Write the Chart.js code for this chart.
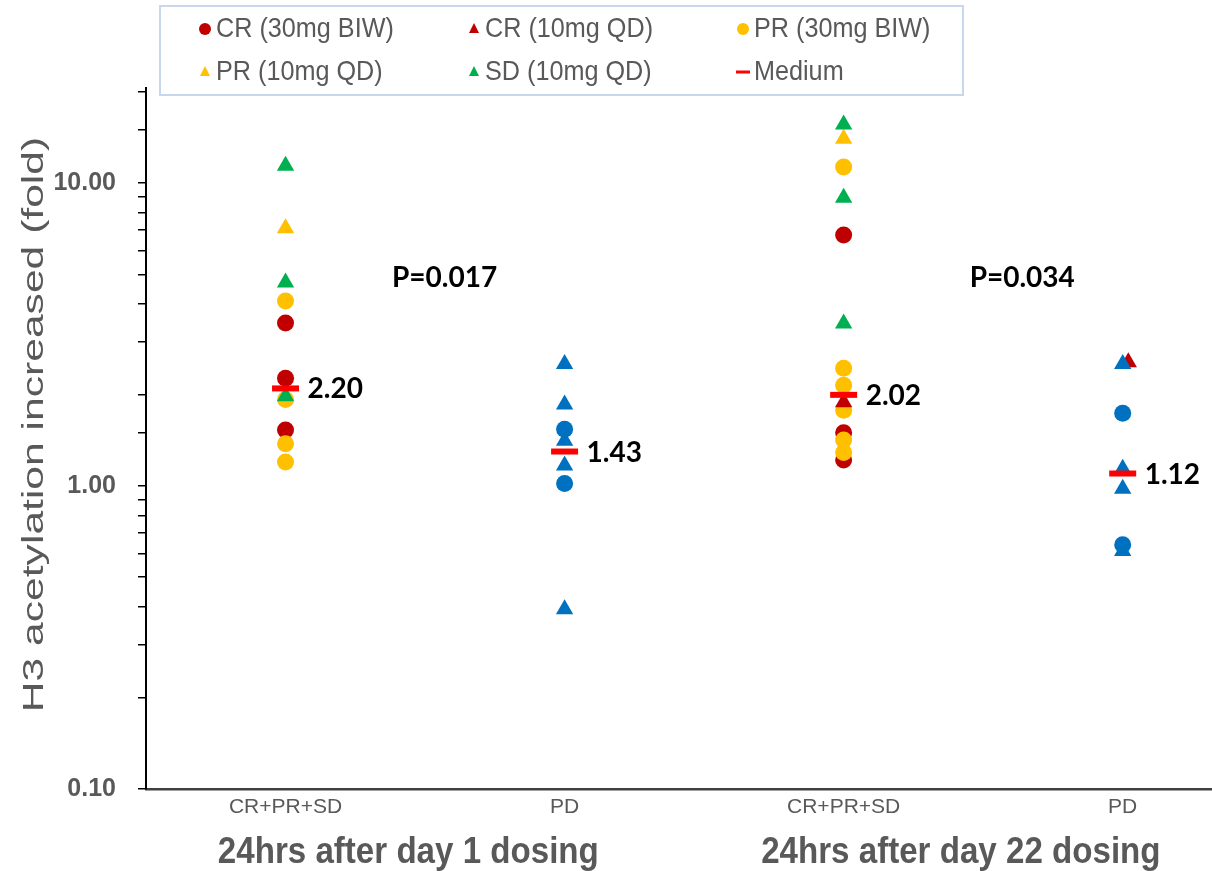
<!DOCTYPE html>
<html>
<head>
<meta charset="utf-8">
<script src="https://cdn.jsdelivr.net/npm/chart.js@4.4.1/dist/chart.umd.min.js"></script>
<style>
  html, body { margin: 0; padding: 0; background: #fff; overflow: hidden; }
  canvas { display: block; }
</style>
</head>
<body>
<canvas id="chart" width="1212" height="871"></canvas>
<script>
const groupLabels = ['CR+PR+SD', 'PD', 'CR+PR+SD', 'PD'];
const periodLabels = ['24hrs after day 1 dosing', '24hrs after day 22 dosing'];
const periodCenters = [1.44, 3.42];
const yTitle = 'H3 acetylation increased (fold)';

// responders (x = group position on the axis)
const crBiwX = [1, 1, 1, 3, 3, 3];
const crBiwY = [3.45, 2.27, 1.53, 6.74, 1.50, 1.22];
const crQdX = [3, 4.02];
const crQdY = [1.89, 2.56];
const prBiwX = [1, 1, 1, 1, 3, 3, 3, 3, 3, 3];
const prBiwY = [4.08, 1.93, 1.38, 1.20, 11.3, 2.45, 2.15, 1.78, 1.42, 1.29];
const prQdX = [1, 3];
const prQdY = [7.1, 14.0];
const sdQdX = [1, 1, 1, 3, 3, 3];
const sdQdY = [11.4, 4.7, 1.98, 15.6, 8.95, 3.44];

// progressive disease, not in the legend
const pdCircleX = [2, 2, 4, 4];
const pdCircleY = [1.54, 1.02, 1.74, 0.64];
const pdTriX = [2, 2, 2, 2, 2, 4, 4, 4, 4];
const pdTriY = [2.53, 1.86, 1.41, 1.17, 0.392, 2.53, 1.14, 0.98, 0.61];

const medianX = [1, 2, 3, 4];
const medianY = [2.10, 1.30, 2.00, 1.10];
const medianText = ['2.20', '1.43', '2.02', '1.12'];

const pText = ['P=0.017', 'P=0.034'];
const pX = [1.57, 3.64];
const pY = [4.86, 4.86];

const yTickValues = [0.1, 1, 10];
const yTickText = ['0.10', '1.00', '10.00'];

const sans = "'Liberation Sans', Arial, sans-serif";
const numFont = "Lato, 'Open Sans', sans-serif";

function pts(xs, ys) {
    return xs.map((x, i) => ({x: x, y: ys[i]}));
}

const datasets = [
    {label: 'CR (30mg BIW)', data: pts(crBiwX, crBiwY), pointStyle: 'circle', pointRadius: 8.5,
     backgroundColor: '#c00000', borderColor: '#c00000', borderWidth: 0, order: 7, inLegend: true},
    {label: 'CR (10mg QD)', data: pts(crQdX, crQdY), pointStyle: 'triangle', pointRadius: 10,
     backgroundColor: '#c00000', borderColor: '#c00000', borderWidth: 0, order: 4, inLegend: true},
    {label: 'PR (30mg BIW)', data: pts(prBiwX, prBiwY), pointStyle: 'circle', pointRadius: 8.5,
     backgroundColor: '#ffc000', borderColor: '#ffc000', borderWidth: 0, order: 6, inLegend: true},
    {label: 'PR (10mg QD)', data: pts(prQdX, prQdY), pointStyle: 'triangle', pointRadius: 10,
     backgroundColor: '#ffc000', borderColor: '#ffc000', borderWidth: 0, order: 5, inLegend: true},
    {label: 'SD (10mg QD)', data: pts(sdQdX, sdQdY), pointStyle: 'triangle', pointRadius: 10,
     backgroundColor: '#00b050', borderColor: '#00b050', borderWidth: 0, order: 3, inLegend: true},
    {label: 'Medium', data: pts(medianX, medianY), pointStyle: 'line', pointRadius: 13.5,
     backgroundColor: '#ff0000', borderColor: '#ff0000', borderWidth: 6, order: 0, inLegend: true},
    {label: 'PD circle', data: pts(pdCircleX, pdCircleY), pointStyle: 'circle', pointRadius: 8.5,
     backgroundColor: '#0070c0', borderColor: '#0070c0', borderWidth: 0, order: 1, inLegend: false},
    {label: 'PD triangle', data: pts(pdTriX, pdTriY), pointStyle: 'triangle', pointRadius: 10,
     backgroundColor: '#0070c0', borderColor: '#0070c0', borderWidth: 0, order: 2, inLegend: false}
];

// legend in a framed box, 3 columns x 2 rows
const boxLegend = {
    id: 'boxLegend',
    afterDraw(chart) {
        const ctx = chart.ctx;
        ctx.save();
        ctx.strokeStyle = '#c8d7ec';
        ctx.lineWidth = 2;
        ctx.strokeRect(160, 6, 803, 89);
        const items = chart.data.datasets.filter(d => d.inLegend);
        items.forEach((ds, i) => {
            const x = 205 + (i % 3) * 269;
            const y = 29 + Math.floor(i / 3) * 43;
            ctx.fillStyle = ds.backgroundColor;
            ctx.strokeStyle = ds.borderColor;
            ctx.beginPath();
            if (ds.pointStyle == 'circle') {
                ctx.arc(x, y, 6, 0, Math.PI * 2);
                ctx.fill();
            } else if (ds.pointStyle == 'triangle') {
                ctx.moveTo(x, y - 6);
                ctx.lineTo(x + 5, y + 4);
                ctx.lineTo(x - 5, y + 4);
                ctx.closePath();
                ctx.fill();
            } else {
                ctx.lineWidth = 3;
                ctx.moveTo(x - 7, y);
                ctx.lineTo(x + 7, y);
                ctx.stroke();
            }
            ctx.save();
            ctx.translate(x + 11, y);
            ctx.scale(0.9, 1);
            ctx.fillStyle = '#595959';
            ctx.font = '28px ' + sans;
            ctx.textAlign = 'left';
            ctx.textBaseline = 'middle';
            ctx.fillText(ds.label, 0, 0);
            ctx.restore();
        });
        ctx.restore();
    }
};

// y title, median values, p values and the period captions
const textLabels = {
    id: 'textLabels',
    afterDraw(chart) {
        const ctx = chart.ctx;
        const xs = chart.scales.x, ys = chart.scales.y;
        const area = chart.chartArea;
        ctx.save();
        ctx.fillStyle = '#000';
        ctx.textBaseline = 'middle';
        ctx.textAlign = 'left';
        ctx.font = 'bold 28px ' + numFont;
        medianText.forEach((t, i) => {
            ctx.fillText(t, xs.getPixelForValue(medianX[i]) + 22, ys.getPixelForValue(medianY[i]) + 1);
        });
        ctx.textAlign = 'center';
        pText.forEach((t, i) => {
            ctx.fillText(t, xs.getPixelForValue(pX[i]), ys.getPixelForValue(pY[i]));
        });

        ctx.fillStyle = '#595959';
        ctx.font = 'bold 36px ' + sans;
        periodLabels.forEach((t, i) => {
            ctx.save();
            ctx.translate(xs.getPixelForValue(periodCenters[i]), area.bottom + 64);
            ctx.scale(0.92, 1);
            ctx.fillText(t, 0, 0);
            ctx.restore();
        });

        ctx.save();
        ctx.translate(35, (area.top + area.bottom) / 2 - 14);
        ctx.rotate(-Math.PI / 2);
        ctx.scale(1.42, 1);
        ctx.font = '30px ' + sans;
        ctx.fillText(yTitle, 0, 0);
        ctx.restore();
        ctx.restore();
    }
};

new Chart(document.getElementById('chart'), {
    type: 'scatter',
    data: {datasets: datasets},
    options: {
        responsive: false,
        animation: false,
        layout: {autoPadding: false, padding: {top: 88, left: 0, right: 0, bottom: 0}},
        plugins: {
            legend: {display: false},
            tooltip: {enabled: false}
        },
        scales: {
            x: {
                type: 'linear',
                min: 0.5,
                max: 4.32,
                afterBuildTicks: s => { s.ticks = groupLabels.map((l, i) => ({value: i + 1})); },
                afterFit: s => { s.height = 82; },
                ticks: {
                    autoSkip: false,
                    maxRotation: 0,
                    padding: 6,
                    color: '#595959',
                    font: {family: sans, size: 21},
                    callback: (v, i) => groupLabels[i]
                },
                grid: {drawOnChartArea: false, drawTicks: false},
                border: {color: '#404040', width: 2.5}
            },
            y: {
                type: 'logarithmic',
                min: 0.1,
                max: 20.6,
                afterBuildTicks: s => { s.ticks = s.ticks.filter(t => t.value <= 20); },
                afterFit: s => { s.width = 146; },
                ticks: {
                    autoSkip: false,
                    padding: 22,
                    color: '#595959',
                    font: {family: sans, size: 25, weight: 'bold'},
                    callback: v => {
                        const k = yTickValues.findIndex(t => Math.abs(t - v) < 1e-9);
                        return k >= 0 ? yTickText[k] : '';
                    }
                },
                grid: {drawOnChartArea: false, drawTicks: true, tickLength: 8, color: '#000', lineWidth: 1.5},
                border: {color: '#000', width: 2}
            }
        }
    },
    plugins: [boxLegend, textLabels]
});
</script>
</body>
</html>
